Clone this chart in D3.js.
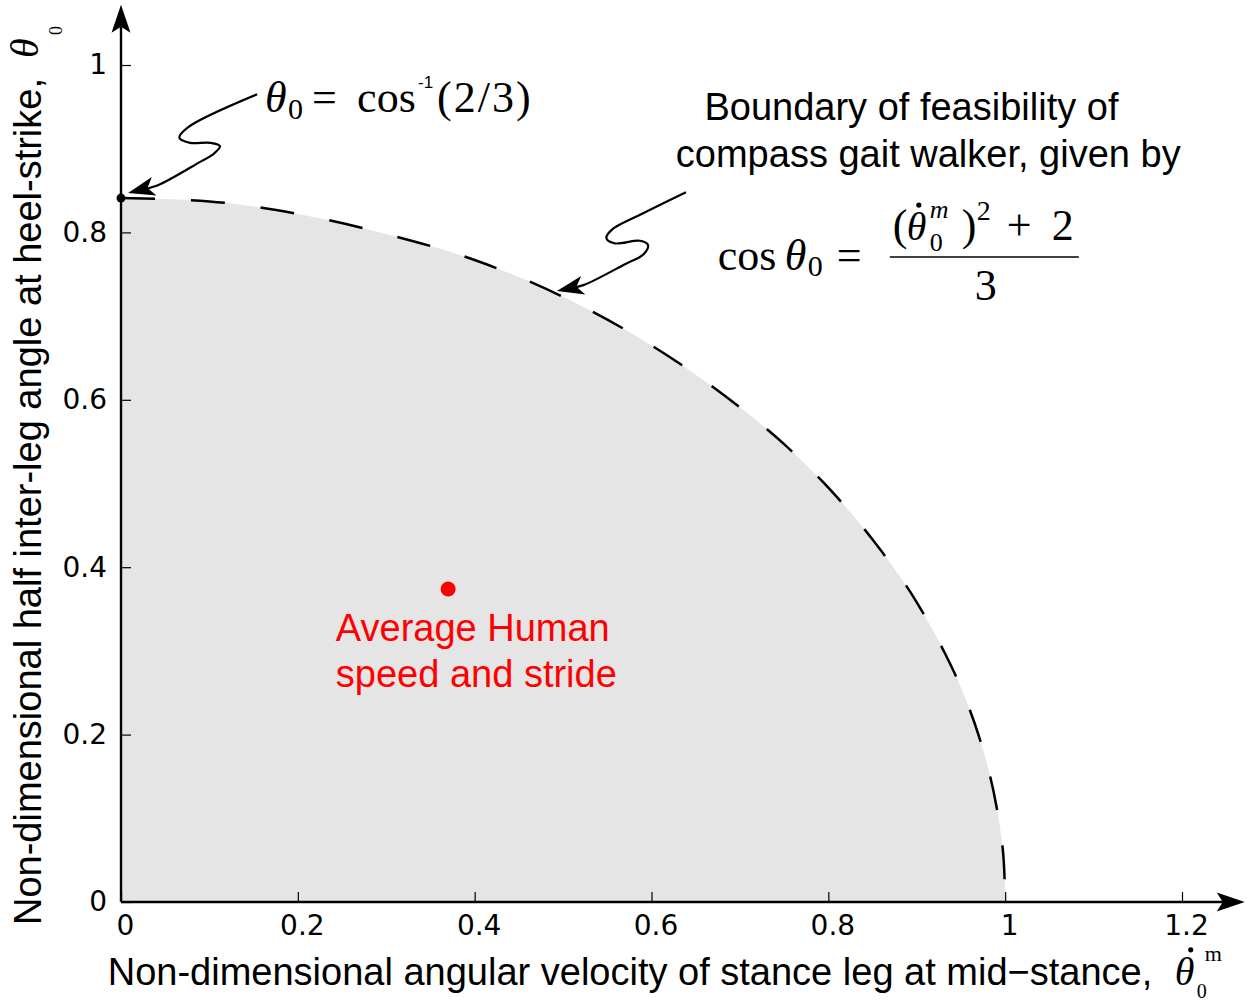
<!DOCTYPE html>
<html>
<head>
<meta charset="utf-8">
<script src="https://cdn.jsdelivr.net/npm/d3@7"></script>
<style>
  body { margin: 0; background: #fff; }
  svg { display: block; }
</style>
</head>
<body>
<svg width="1247" height="1003"></svg>
<script>
// feasibility boundary (angular velocity -> theta0)
const boundaryVel = [0, 0.1, 0.2, 0.3, 0.4, 0.5, 0.6, 0.7, 0.75, 0.8, 0.85, 0.9, 0.93, 0.95, 0.97, 0.98, 0.99, 0.995, 0.999, 1.0];
const boundaryTheta = [0.841, 0.837, 0.822, 0.798, 0.767, 0.723, 0.665, 0.591, 0.547, 0.495, 0.433, 0.358, 0.301, 0.256, 0.199, 0.163, 0.115, 0.082, 0.037, 0];

const humanPoint = [0.37, 0.374];
const heelPoint = [0, 0.841];

const xTicks = [0, 0.2, 0.4, 0.6, 0.8, 1, 1.2];
const yTicks = [0, 0.2, 0.4, 0.6, 0.8, 1];
const axisEnd = [1.271, 1.072];   // where the axis arrows stop

// squiggly annotation arrows (data units), last point is the tip
const arrowHeel = [[0.154, 0.965], [0.075, 0.925], [0.066, 0.913], [0.078, 0.907], [0.101, 0.907],
  [0.112, 0.903], [0.105, 0.894], [0.089, 0.884], [0.041, 0.856], [0.008, 0.847]];
const arrowBoundary = [[0.639, 0.848], [0.587, 0.821], [0.555, 0.803], [0.549, 0.793], [0.558, 0.787],
  [0.587, 0.790], [0.596, 0.785], [0.591, 0.774], [0.570, 0.762], [0.523, 0.737], [0.493, 0.730]];

const svg = d3.select("svg");
const SANS = "'Liberation Sans', Arial, sans-serif";
const SERIF = "'Liberation Serif', 'Times New Roman', serif";

const xS = d3.scaleLinear().domain([0, 1.2]).range([121, 1182]);
const yS = d3.scaleLinear().domain([0, 1]).range([902, 65]);

const boundary = boundaryVel.map((v, i) => ({ x: v, y: boundaryTheta[i] }));

// grey feasible region
const area = d3.area()
  .x(d => xS(d.x))
  .y0(yS(0))
  .y1(d => yS(d.y))
  .curve(d3.curveMonotoneX);

svg.append("path")
  .datum(boundary)
  .attr("d", area)
  .attr("fill", "#e5e5e5");

// ticks (inside) + labels
const xAxis = d3.axisBottom(xS).tickValues(xTicks).tickSizeInner(-10).tickSizeOuter(0)
  .tickPadding(13).tickFormat(d3.format("~g"));
const gx = svg.append("g").attr("transform", `translate(0,${yS(0)})`).call(xAxis);
gx.select(".domain").remove();
gx.selectAll("line").attr("stroke", "#000").attr("stroke-width", 1.2);
gx.selectAll("text").attr("font-family", "'DejaVu Sans', sans-serif").attr("font-size", 28)
  .attr("fill", "#000").attr("dx", 4);

const yAxis = d3.axisLeft(yS).tickValues(yTicks).tickSizeInner(-10).tickSizeOuter(0)
  .tickPadding(14).tickFormat(d3.format("~g"));
const gy = svg.append("g").attr("transform", `translate(${xS(0)},0)`).call(yAxis);
gy.select(".domain").remove();
gy.selectAll("line").attr("stroke", "#000").attr("stroke-width", 1.2);
gy.selectAll("text").attr("font-family", "'DejaVu Sans', sans-serif").attr("font-size", 28)
  .attr("fill", "#000");

// filled arrow head with a notched back
function arrowHead(tip, from, len, half, notch) {
  const dx = tip[0] - from[0], dy = tip[1] - from[1];
  const l = Math.hypot(dx, dy);
  const ux = dx / l, uy = dy / l, nx = -uy, ny = ux;
  const bx = tip[0] - ux * len, by = tip[1] - uy * len;
  const mx = tip[0] - ux * (len - notch), my = tip[1] - uy * (len - notch);
  return `M${tip[0]},${tip[1]}L${bx + nx * half},${by + ny * half}L${mx},${my}L${bx - nx * half},${by - ny * half}Z`;
}

// axis lines with arrows
svg.append("line")
  .attr("x1", xS(0)).attr("y1", yS(0)).attr("x2", xS(0)).attr("y2", yS(axisEnd[1]) + 10)
  .attr("stroke", "#000").attr("stroke-width", 2.4);
svg.append("line")
  .attr("x1", xS(0)).attr("y1", yS(0)).attr("x2", xS(axisEnd[0]) - 10).attr("y2", yS(0))
  .attr("stroke", "#000").attr("stroke-width", 2.4);
svg.append("path")
  .attr("d", arrowHead([xS(0), yS(axisEnd[1])], [xS(0), yS(0)], 28, 9.5, 6));
svg.append("path")
  .attr("d", arrowHead([xS(axisEnd[0]), yS(0)], [xS(0), yS(0)], 28, 9.5, 6));

// dashed boundary
const line = d3.line().x(d => xS(d.x)).y(d => yS(d.y)).curve(d3.curveMonotoneX);
svg.append("path")
  .datum(boundary)
  .attr("d", line)
  .attr("fill", "none")
  .attr("stroke", "#000")
  .attr("stroke-width", 2.5)
  .attr("stroke-dasharray", "34,36");

// points
svg.append("circle")
  .attr("cx", xS(heelPoint[0])).attr("cy", yS(heelPoint[1])).attr("r", 4.5).attr("fill", "#000");
svg.append("circle")
  .attr("cx", xS(humanPoint[0])).attr("cy", yS(humanPoint[1])).attr("r", 7.5).attr("fill", "#ff0000");

// annotation arrows
const arrowLine = d3.line().x(d => xS(d[0])).y(d => yS(d[1])).curve(d3.curveCatmullRom.alpha(0.5));
[arrowHeel, arrowBoundary].forEach(pts => {
  const n = pts.length;
  const mid = pts[n - 2].map((v, k) => (v + pts[n - 1][k]) / 2);
  svg.append("path")
    .attr("d", arrowLine(pts.slice(0, -1).concat([mid])))
    .attr("fill", "none").attr("stroke", "#000").attr("stroke-width", 2.2);
  const tip = pts[n - 1], prev = pts[n - 2];
  svg.append("path")
    .attr("d", arrowHead([xS(tip[0]), yS(tip[1])], [xS(prev[0]), yS(prev[1])], 27, 9.5, 7))
    .attr("fill", "#000");
});

// compound text helper: pieces offset (in px) from an anchor
function pieces(g, items) {
  items.forEach(p => {
    g.append("text")
      .attr("x", p.dx).attr("y", p.dy || 0)
      .attr("font-family", p.sans ? SANS : SERIF)
      .attr("font-size", p.size || 44)
      .attr("font-style", p.it ? "italic" : "normal")
      .attr("letter-spacing", p.ls || 0)
      .attr("fill", "#000")
      .text(p.t);
  });
}

// theta0 = cos^-1(2/3)
const a1 = svg.append("g").attr("transform", `translate(${xS(0.163)},${yS(0.944)})`);
pieces(a1, [
  { t: "θ", dx: 0, it: true },
  { t: "0", dx: 23, dy: 7, size: 30 },
  { t: "=", dx: 47 },
  { t: "cos", dx: 92 },
  { t: "-1", dx: 153, dy: -24, size: 17, sans: true },
  { t: "(2/3)", dx: 172, ls: 2 }
]);

// boundary description
svg.append("text")
  .attr("x", xS(0.894)).attr("y", yS(0.934))
  .attr("text-anchor", "middle").attr("font-family", SANS).attr("font-size", 38)
  .text("Boundary of feasibility of");
svg.append("text")
  .attr("x", xS(0.913)).attr("y", yS(0.878))
  .attr("text-anchor", "middle").attr("font-family", SANS).attr("font-size", 38)
  .text("compass gait walker, given by");

// cos theta0 = ((theta0dot^m)^2 + 2) / 3
const eq = svg.append("g").attr("transform", `translate(${xS(0.675)},${yS(0.755)})`);
pieces(eq, [
  { t: "cos", dx: 0 },
  { t: "θ", dx: 67, it: true },
  { t: "0", dx: 90, dy: 6, size: 30 },
  { t: "=", dx: 119 },
  { t: "(", dx: 175, dy: -30 },
  { t: "θ", dx: 189, dy: -30, it: true, size: 40 },
  { t: "0", dx: 212, dy: -19, size: 26 },
  { t: "m", dx: 212, dy: -52, size: 26, it: true },
  { t: ")", dx: 244, dy: -30 },
  { t: "2", dx: 259, dy: -50, size: 28 },
  { t: "+", dx: 289, dy: -30 },
  { t: "2", dx: 334, dy: -30 }
]);
pieces(eq, [{ t: "3", dx: 257, dy: 30 }]);
eq.append("circle").attr("cx", 201).attr("cy", -65).attr("r", 2.6).attr("fill", "#000");
eq.append("line").attr("x1", 172).attr("x2", 361).attr("y1", -13).attr("y2", -13)
  .attr("stroke", "#000").attr("stroke-width", 1.6);

// red label for human point
const red = svg.append("text")
  .attr("x", xS(0.243)).attr("y", yS(0.312))
  .attr("font-family", SANS).attr("font-size", 38).attr("fill", "#ff0000");
red.append("tspan").text("Average Human");
red.append("tspan").attr("x", xS(0.243)).attr("dy", 46).text("speed and stride");

// x axis title
const xl = svg.append("g").attr("transform", `translate(${xS(-0.015)},${yS(-0.099)})`);
pieces(xl, [
  { t: "Non-dimensional angular velocity of stance leg at mid\u2212stance,", dx: 0, size: 38, sans: true },
  { t: "θ", dx: 1067, it: true, size: 40 },
  { t: "0", dx: 1089, dy: 13, size: 20 },
  { t: "m", dx: 1097, dy: -24, size: 22 }
]);
xl.append("circle").attr("cx", 1083).attr("cy", -35).attr("r", 2.6).attr("fill", "#000");

// y axis title (rotated)
const yl = svg.append("g").attr("transform", `translate(41,${yS(0) + 23}) rotate(-90)`);
pieces(yl, [
  { t: "Non-dimensional half inter-leg angle at heel-strike,", dx: 0, size: 38, sans: true },
  { t: "θ", dx: 867, dy: -3, it: true, size: 40 },
  { t: "0", dx: 890, dy: 21, size: 18 }
]);
</script>
</body>
</html>
